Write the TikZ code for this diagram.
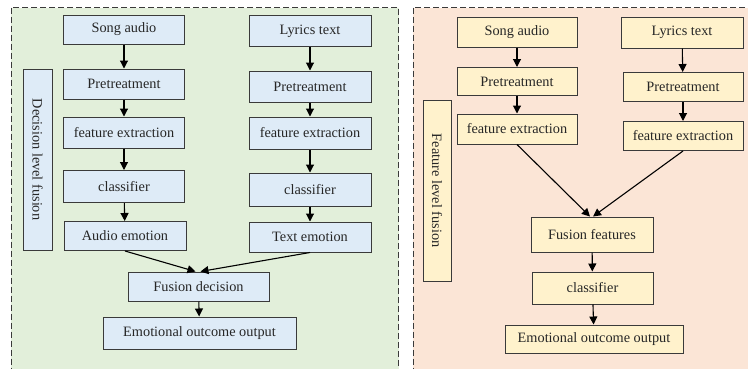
\documentclass[tikz,border=0pt]{standalone}
\usepackage{fontspec}
\setmainfont{Liberation Serif}
\usetikzlibrary{arrows.meta}
\definecolor{pgreen}{HTML}{E2EFDA}
\definecolor{pblue}{HTML}{DEEBF7}
\definecolor{ppeach}{HTML}{FBE5D6}
\definecolor{pyellow}{HTML}{FFF2CC}
\definecolor{bord}{HTML}{3A3A3A}
\begin{document}
\begin{tikzpicture}[x=1pt,y=-1pt,
  panel/.style={draw=bord,line width=0.9pt,dash pattern=on 6pt off 3pt},
  bbox/.style={draw=bord,line width=1pt,fill=pblue,inner sep=0pt,font=\fontsize{14.3}{16}\selectfont,text=black!85},
  ybox/.style={bbox,fill=pyellow},
  lab/.style={bbox,rotate=-90},
  arr/.style={-{Triangle[length=8pt,width=8pt]},line width=1.1pt,black}]
\useasboundingbox (0,0) rectangle (748,368);
\clip (0,0) rectangle (748,368);
\fill[white] (0,0) rectangle (748,368);
% panels
\draw[panel,fill=pgreen] (11,7.5) rectangle (398.5,380);
\draw[panel,fill=ppeach] (413,7.5) rectangle (760,380);
% left panel nodes
\node[bbox,minimum width=121pt,minimum height=29pt] (sa1) at (124,29.5) {Song audio};
\node[bbox,minimum width=122pt,minimum height=31pt] (lt1) at (310,31) {Lyrics text};
\node[bbox,minimum width=121pt,minimum height=30pt] (pa1) at (124,84) {Pretreatment};
\node[bbox,minimum width=122pt,minimum height=31pt] (pt1) at (310,86.5) {Pretreatment};
\node[bbox,minimum width=121pt,minimum height=31pt] (fa1) at (124,132.5) {feature extraction};
\node[bbox,minimum width=122pt,minimum height=32pt] (ft1) at (310,133) {feature extraction};
\node[bbox,minimum width=121pt,minimum height=32pt] (ca1) at (124,186.5) {classifier};
\node[bbox,minimum width=122pt,minimum height=33pt] (ct1) at (310,189.5) {classifier};
\node[bbox,minimum width=122pt,minimum height=29pt] (ae) at (125,236) {Audio emotion};
\node[bbox,minimum width=122pt,minimum height=30pt] (te) at (310,237) {Text emotion};
\node[bbox,minimum width=141pt,minimum height=29pt] (fd) at (198.5,286.5) {Fusion decision};
\node[bbox,minimum width=193pt,minimum height=32pt] (eo1) at (199.5,333) {Emotional outcome output};
\node[lab,minimum width=181pt,minimum height=29pt] (dlf) at (37.5,159.5) {Decision level fusion};
% left arrows
\draw[arr] (sa1) -- (pa1);
\draw[arr] (pa1) -- (fa1);
\draw[arr] (fa1) -- (ca1);
\draw[arr] (ca1) -- (ae);
\draw[arr] (lt1) -- (pt1);
\draw[arr] (pt1) -- (ft1);
\draw[arr] (ft1) -- (ct1);
\draw[arr] (ct1) -- (te);
\draw[arr] (ae.south) -- ([xshift=-3pt]fd.north);
\draw[arr] (te.south) -- ([xshift=2pt]fd.north);
\draw[arr] (fd) -- (eo1);
% right panel nodes
\node[ybox,minimum width=120pt,minimum height=30pt] (sa2) at (517,32) {Song audio};
\node[ybox,minimum width=122pt,minimum height=31pt] (lt2) at (682,32.5) {Lyrics text};
\node[ybox,minimum width=120pt,minimum height=28pt] (pa2) at (517,81.5) {Pretreatment};
\node[ybox,minimum width=120pt,minimum height=29pt] (pt2) at (683,87) {Pretreatment};
\node[ybox,minimum width=120pt,minimum height=30pt] (fa2) at (517,129) {feature extraction};
\node[ybox,minimum width=120pt,minimum height=29pt] (ft2) at (683,136) {feature extraction};
\node[ybox,minimum width=122pt,minimum height=35pt] (ff) at (592,234.5) {Fusion features};
\node[ybox,minimum width=121pt,minimum height=32pt] (cl2) at (592.5,288) {classifier};
\node[ybox,minimum width=178pt,minimum height=28pt] (eo2) at (594,339) {Emotional outcome output};
\node[lab,fill=pyellow,minimum width=181pt,minimum height=28pt] (flf) at (437,190.5) {Feature level fusion};
% right arrows
\draw[arr] (sa2) -- (pa2);
\draw[arr] (pa2) -- (fa2);
\draw[arr] (lt2) -- (pt2);
\draw[arr] (pt2) -- (ft2);
\draw[arr] (fa2.south) -- ([xshift=-2pt]ff.north);
\draw[arr] (ft2.south) -- ([xshift=1pt]ff.north);
\draw[arr] (ff) -- (cl2);
\draw[arr] (cl2) -- (eo2);
\end{tikzpicture}
\end{document}
